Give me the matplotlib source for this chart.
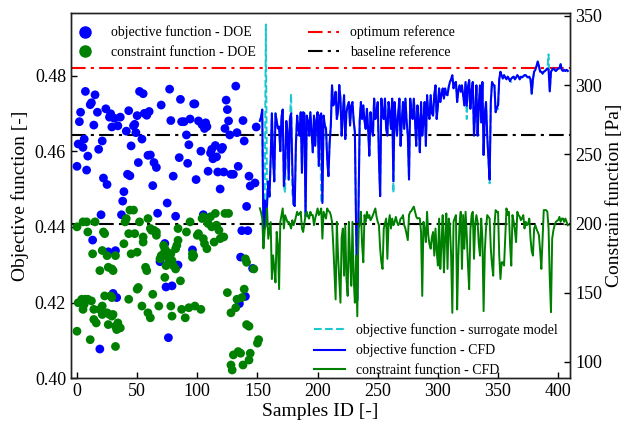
import numpy as np
import matplotlib.pyplot as plt
from matplotlib.lines import Line2D
from matplotlib.ticker import FormatStrFormatter

plt.rcParams['font.family'] = ['Liberation Serif', 'DejaVu Serif']

# DOE samples - objective function [-]
doe_obj_id = [0, 1, 2, 3, 5, 6, 7, 8, 9, 11, 12, 13, 14, 15, 17, 18, 19, 20, 21, 22,
              24, 25, 26, 27, 28, 29, 30, 31, 32, 33, 34, 36, 37, 38, 39, 41, 42, 43, 44, 45,
              47, 48, 49, 50, 51, 52, 54, 55, 56, 58, 59, 60, 61, 63, 64, 66, 67, 69, 70, 73,
              74, 75, 76, 77, 78, 79, 80, 82, 84, 85, 86, 87, 89, 91, 92, 93, 94, 96, 97, 98,
              99, 101, 103, 104, 105, 106, 107, 108, 109, 111, 112, 113, 115, 116, 117, 119, 120, 121, 122, 123,
              124, 125, 126, 127, 128, 130, 132, 133, 134, 135, 136, 137, 138, 139, 140, 141, 142, 143, 144, 146,
              148, 149]
doe_obj = [0.4560, 0.4619, 0.4678, 0.4703, 0.4610, 0.4632, 0.4758, 0.4550, 0.4587, 0.4723,
           0.4728, 0.4365, 0.4669, 0.4749, 0.4703, 0.4605, 0.4077, 0.4432, 0.4627, 0.4529,
           0.4712, 0.4512, 0.4334, 0.4690, 0.4699, 0.4664, 0.4224, 0.4687, 0.4337, 0.4213,
           0.4667, 0.4690, 0.4432, 0.4468, 0.4493, 0.4653, 0.4539, 0.4707, 0.4535, 0.4614,
           0.4667, 0.4671, 0.4649, 0.4694, 0.4570, 0.4758, 0.4632, 0.4752, 0.4700, 0.4695,
           0.4589, 0.4705, 0.4590, 0.4509, 0.4570, 0.4557, 0.4436, 0.4308, 0.4722, 0.4356,
           0.4241, 0.4463, 0.4107, 0.4764, 0.4681, 0.4244, 0.4534, 0.4428, 0.4299, 0.4583,
           0.4737, 0.4678, 0.4678, 0.4643, 0.4568, 0.4617, 0.4685, 0.4339, 0.4725, 0.4725,
           0.4525, 0.4680, 0.4600, 0.4670, 0.4432, 0.4660, 0.4675, 0.4665, 0.4547, 0.4595,
           0.4605, 0.4580, 0.4615, 0.4585, 0.4545, 0.4500, 0.4605, 0.4610, 0.4545, 0.4660,
           0.4735, 0.4710, 0.4680, 0.4643, 0.4539, 0.4539, 0.4772, 0.4649, 0.4560, 0.4197,
           0.4320, 0.4390, 0.4681, 0.4627, 0.4216, 0.4454, 0.4390, 0.4534, 0.4508, 0.4290,
           0.4516, 0.4664]

# DOE samples - constraint function [Pa]
doe_con_id = [0, 0, 1, 4, 5, 6, 7, 5, 8, 9, 9, 11, 12, 13, 14, 14, 15, 16, 19, 19,
              21, 21, 21, 22, 23, 23, 25, 25, 26, 26, 27, 28, 29, 29, 29, 30, 30, 32, 32, 32,
              33, 34, 36, 39, 40, 41, 43, 43, 44, 45, 47, 48, 50, 51, 50, 52, 54, 55, 55, 57,
              58, 59, 59, 61, 61, 62, 63, 64, 66, 66, 68, 69, 70, 72, 72, 73, 73, 75, 74, 76,
              78, 78, 79, 79, 80, 82, 82, 83, 84, 84, 86, 87, 90, 91, 93, 94, 96, 96, 97, 98,
              100, 101, 103, 104, 105, 105, 106, 108, 109, 111, 112, 114, 115, 116, 118, 119, 122, 123, 125, 126,
              128, 128, 129, 130, 132, 133, 134, 136, 137, 138, 139, 140, 141, 141, 143, 143, 144, 147, 150, 151]
doe_con = [197.6, 122.2, 142.8, 145.3, 138.0, 141.6, 145.3, 201.2, 201.2, 193.9,
           145.3, 116.1, 144.1, 178.1, 138.0, 130.7, 201.2, 128.2, 166.0, 138.0,
           180.5, 140.4, 134.3, 193.9, 192.7, 147.7, 176.8, 135.5, 127.0, 168.4,
           134.3, 147.7, 133.1, 146.5, 167.2, 166.0, 134.3, 176.8, 125.8, 111.2,
           123.4, 128.2, 124.6, 185.4, 201.2, 203.6, 192.7, 145.3, 209.7, 178.1,
           209.7, 192.7, 179.3, 153.8, 152.6, 201.2, 140.4, 190.3, 186.6, 168.4,
           166.0, 135.5, 203.6, 196.4, 131.9, 195.1, 148.9, 195.1, 193.9, 191.5,
           140.4, 174.5, 176.8, 178.1, 184.2, 161.1, 181.8, 179.3, 169.6, 174.5,
           140.4, 178.1, 173.2, 133.1, 169.6, 181.8, 167.2, 184.2, 187.9, 196.4,
           158.6, 138.0, 131.9, 193.9, 139.2, 201.2, 175.6, 178.1, 176.8, 140.4,
           191.5, 192.7, 138.0, 203.6, 204.9, 189.1, 185.4, 181.8, 200.0, 204.9,
           197.6, 186.6, 207.3, 198.8, 195.1, 189.1, 190.3, 207.3, 150.1, 207.3,
           135.5, 97.8, 94.2, 105.1, 139.2, 145.3, 107.5, 106.3, 146.5, 97.8,
           152.6, 174.5, 172.0, 127.0, 125.8, 101.4, 106.3, 167.2, 113.6, 116.1]

# optimisation run, samples 152 ... 408
opt_start = 152
obj_cfd = [
    0.468, 0.469, 0.471, 0.436, 0.447, 0.441, 0.446, 0.452, 0.448, 0.458,
    0.470, 0.458, 0.452, 0.470, 0.468, 0.466, 0.4665, 0.460, 0.469, 0.471,
    0.4508, 0.455, 0.468, 0.465, 0.4525, 0.4685, 0.470, 0.456, 0.446, 0.4455,
    0.462, 0.4694, 0.466, 0.4641, 0.4703, 0.4543, 0.4703, 0.470, 0.4428, 0.4694,
    0.468, 0.4641, 0.4703, 0.465, 0.4597, 0.4694, 0.4614, 0.468, 0.4703, 0.4561,
    0.4694, 0.470, 0.4463, 0.4694, 0.4668, 0.466, 0.4579, 0.4534, 0.462, 0.4668,
    0.4774, 0.4721, 0.4730, 0.4757, 0.4685, 0.4705, 0.4775, 0.4739, 0.4641, 0.470,
    0.4748, 0.4632, 0.4703, 0.472, 0.4730, 0.4668, 0.472, 0.4730, 0.468, 0.465,
    0.440, 0.4205, 0.445, 0.468, 0.4730, 0.4685, 0.4721, 0.468, 0.4659, 0.4712,
    0.466, 0.4588, 0.4703, 0.466, 0.4641, 0.4739, 0.4685, 0.470, 0.4730, 0.4579,
    0.4481, 0.4739, 0.470, 0.4685, 0.4739, 0.466, 0.4641, 0.4730, 0.470, 0.4659,
    0.4739, 0.452, 0.4730, 0.468, 0.4641, 0.470, 0.4739, 0.4614, 0.468, 0.4730,
    0.4659, 0.4739, 0.468, 0.4641, 0.4525, 0.4739, 0.470, 0.4685, 0.4739, 0.468,
    0.4614, 0.4721, 0.468, 0.4597, 0.4730, 0.4641, 0.468, 0.4730, 0.4614, 0.4748,
    0.470, 0.4685, 0.4748, 0.470, 0.4694, 0.4748, 0.4774, 0.4685, 0.472, 0.4766,
    0.473, 0.475, 0.4766, 0.4739, 0.4766, 0.475, 0.4748, 0.477, 0.4783, 0.479,
    0.4801, 0.4766, 0.478, 0.4783, 0.4730, 0.476, 0.4774, 0.4757, 0.4774, 0.4748,
    0.4721, 0.4783, 0.472, 0.4770, 0.4788, 0.4712, 0.476, 0.4783, 0.4641, 0.470,
    0.4774, 0.4641, 0.472, 0.4774, 0.4676, 0.4783, 0.459, 0.470, 0.4730, 0.4641,
    0.458, 0.4525, 0.4730, 0.4783, 0.4775, 0.4774, 0.4703, 0.4715, 0.4721, 0.4790,
    0.4810, 0.4800, 0.4792, 0.4801, 0.4795, 0.4790, 0.4797, 0.4792, 0.4785, 0.4792,
    0.4795, 0.4797, 0.4790, 0.4795, 0.4801, 0.4797, 0.4790, 0.4797, 0.4795, 0.4798,
    0.4801, 0.4801, 0.4797, 0.4795, 0.4797, 0.4790, 0.4752, 0.4790, 0.4810, 0.4815,
    0.4825, 0.4837, 0.4825, 0.4810, 0.4810, 0.4805, 0.4810, 0.4812, 0.4815, 0.4819,
    0.4815, 0.4758, 0.4810, 0.4815, 0.4819, 0.4815, 0.4812, 0.4815, 0.4819, 0.4819,
    0.4830, 0.4815, 0.4812, 0.4815, 0.4812, 0.4815, 0.4812]

# surrogate prediction differs from CFD only at these samples
sur_diff = {157: 0.4935, 173: 0.449, 178: 0.4752, 179: 0.449, 203: 0.447,
            263: 0.449, 324: 0.4685, 343: 0.4515, 350: 0.4712, 361: 0.4783,
            392: 0.4856}

con_cfd = [
    211, 208, 203.6, 182, 195, 199, 211, 189, 195, 201,
    159.9, 177, 168, 157.4, 194, 185, 152.6, 201, 206, 210.9,
    196.4, 206, 203.6, 201, 201.2, 198.8, 196.4, 202.4, 198.8, 201.2,
    205, 208.5, 206.1, 207, 208.5, 196.4, 193.9, 200, 206.1, 208.5,
    205, 203.6, 208.5, 206, 206.1, 198.8, 203.6, 207, 210.9, 206.1,
    208, 210.9, 189.1, 208.5, 206, 203.6, 210.9, 209, 208.5, 206.1,
    201.2, 185, 164.7, 145.2, 201.2, 176.8, 160, 142.8, 190, 196.4,
    162.3, 198.8, 160, 147.7, 201.2, 175, 155, 201.2, 160, 142.8,
    176.8, 133, 196.4, 200, 208.5, 185, 172, 206.1, 201.2, 208.5,
    204, 206.1, 202.4, 204, 206.1, 208.5, 210.9, 205, 201.2, 198.8,
    181.8, 172, 167.2, 196.4, 200, 203.6, 174.5, 200, 206.1, 196.4,
    203.6, 198.8, 201, 204.8, 201.2, 198.8, 200, 203.6, 204, 206.1,
    198.8, 196.4, 192, 188, 206.1, 208.5, 209, 210.9, 212.2, 208.5,
    205, 203.6, 204, 203.6, 193.9, 147.7, 201.2, 196, 186.6, 208.5,
    191.5, 185, 181.8, 190, 193.9, 176.8, 196.4, 180, 169.6, 203.6,
    167.2, 185, 206.1, 164.7, 190, 207.3, 167.2, 203.6, 198, 176.8,
    135.5, 201.2, 204, 206.1, 137.9, 176.8, 200, 208.5, 167.2, 206.1,
    181.8, 208.5, 191.5, 170, 152.6, 195, 206.1, 208.5, 174.5, 200,
    206.1, 201.2, 185, 176.8, 203.6, 189.1, 136.7, 180, 196.4, 206.1,
    204.8, 203.6, 181.8, 170, 162.3, 198.8, 209.7, 208.5, 208.5, 176.8,
    159.9, 172, 172, 169.6, 190, 210.9, 206.1, 208.5, 185, 169.6,
    206.1, 201.2, 195, 186.6, 208.5, 206.1, 205, 202.4, 204, 206.1,
    196.4, 201.2, 198.8, 200, 203.6, 189.1, 180, 176.8, 196.4, 198.8,
    196, 193.9, 191.5, 180, 167.2, 189.1, 209.7, 209.7, 209.7, 208.5,
    196.4, 160, 136, 189.1, 195, 198.8, 201.2, 202, 202.4, 204.8,
    201.2, 203.6, 203.6, 201.2, 203.6, 201.2, 198.8]

obj_optimum = 0.4821
obj_baseline = 0.4643
con_baseline = 200

opt_id = np.arange(opt_start, opt_start + len(obj_cfd))
obj_sur = list(obj_cfd)
for k, v in sur_diff.items():
    obj_sur[k - opt_start] = v

dd = (7, 2.5, 1.5, 2.5)

fig = plt.figure(figsize=(6.28, 4.23), dpi=100)
ax = fig.add_axes([0.113, 0.106, 0.795, 0.863])
ax2 = ax.twinx()

ax.axhline(obj_optimum, color='red', ls='-.', lw=1.5, dashes=dd)
ax.axhline(obj_baseline, color='black', ls='-.', lw=1.5, dashes=dd)
ax.scatter(doe_obj_id, doe_obj, s=40, color='#0000ff', edgecolors='none', zorder=3)
ax.plot(opt_id, obj_sur, color='#1cc8cf', ls='--', lw=1.4, zorder=3)
ax.plot(opt_id, obj_cfd, color='#0000ff', lw=1.5, zorder=4)

ax2.axhline(con_baseline, color='black', ls='-.', lw=1.5, dashes=dd)
ax2.scatter(doe_con_id, doe_con, s=40, color='#008000', edgecolors='none', zorder=3)
ax2.plot(opt_id, con_cfd, color='#008000', lw=1.4, zorder=3)

ax.set_xlim(-5, 410)
ax.set_ylim(0.40, 0.4965)
ax2.set_ylim(88.3, 352)
ax.set_xticks(np.arange(0, 401, 50))
ax.set_yticks(np.arange(0.40, 0.481, 0.02))
ax.yaxis.set_major_formatter(FormatStrFormatter('%.2f'))
ax2.set_yticks(np.arange(100, 351, 50))

for a in (ax, ax2):
    a.tick_params(direction='in', labelsize=13, length=4, width=1)
    for sp in a.spines.values():
        sp.set_linewidth(1.0)
        sp.set_color('#222222')

ax.set_xlabel('Samples ID [-]', fontsize=14, labelpad=2)
ax.set_ylabel('Objective function [-]', fontsize=14, labelpad=4)
ax2.set_ylabel('Constrain function [Pa]', fontsize=14, labelpad=3)

h_doe = [Line2D([], [], ls='none', marker='o', ms=8, color='#0000ff'),
         Line2D([], [], ls='none', marker='o', ms=8, color='#008000')]
leg1 = ax2.legend(h_doe, ['objective function - DOE', 'constraint function - DOE'],
                  loc='upper left', bbox_to_anchor=(-0.025, 1.0), frameon=False,
                  fontsize=10, handletextpad=0.9, labelspacing=0.45)
h_ref = [Line2D([], [], color='red', ls='-.', lw=1.5, dashes=dd),
         Line2D([], [], color='black', ls='-.', lw=1.5, dashes=dd)]
leg2 = ax2.legend(h_ref, ['optimum reference', 'baseline reference'],
                  loc='upper left', bbox_to_anchor=(0.45, 1.0), frameon=False,
                  fontsize=10, handlelength=2.2, labelspacing=0.45)
h_cfd = [Line2D([], [], color='#1cc8cf', ls='--', lw=1.5),
         Line2D([], [], color='#0000ff', lw=1.5),
         Line2D([], [], color='#008000', lw=1.5)]
leg3 = ax2.legend(h_cfd, ['objective function - surrogate model', 'objective function - CFD',
                          'constraint function - CFD'],
                  loc='lower right', bbox_to_anchor=(1.0, -0.03), frameon=False,
                  fontsize=10, handlelength=2.2, labelspacing=0.45)
ax2.add_artist(leg1)
ax2.add_artist(leg2)

fig.savefig('out.png', dpi=100)
